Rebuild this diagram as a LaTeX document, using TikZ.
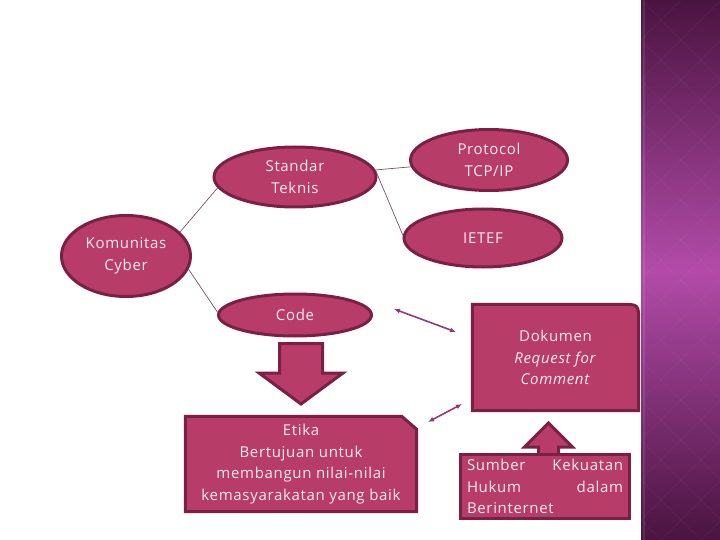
\documentclass[tikz,border=0pt]{standalone}
\usepackage{fontspec}
\setmainfont[LetterSpace=4.5]{Open Sans}
\usepackage{tikz}
\usetikzlibrary{arrows.meta,shapes.geometric,backgrounds}

\definecolor{roseFill}{RGB}{184,60,104}
\definecolor{roseEdge}{RGB}{122,32,68}
\definecolor{roseText}{RGB}{250,234,242}
\definecolor{linkGrey}{RGB}{120,80,105}
\definecolor{twowayRose}{RGB}{150,58,110}
\definecolor{barDark}{RGB}{74,20,64}
\definecolor{barBright}{RGB}{178,75,168}

\begin{document}
\begin{tikzpicture}[x=1pt,y=-1pt,
  font=\fontsize{15}{21.5}\selectfont,
  bubble/.style={ellipse,draw=roseEdge,fill=roseFill,line width=3pt,text=roseText,align=center,inner sep=0pt},
  card/.style={text=roseText,align=center,inner sep=0pt},
  cardframe/.style={draw=roseEdge,fill=roseFill,line width=3pt,line join=miter},
  link/.style={draw=linkGrey,line width=0.7pt},
  twoway/.style={{Latex[length=6pt,width=5pt]}-{Latex[length=6pt,width=5pt]},draw=twowayRose,line width=1.6pt}]
\useasboundingbox (0,0) rectangle (720,540);

% ellipses
\node[bubble,minimum width=129,minimum height=81] (kom) at (126,256) {Komunitas\\Cyber};
\node[bubble,minimum width=162,minimum height=60] (std) at (295,177) {Standar\\Teknis};
\node[bubble,minimum width=153,minimum height=42] (code) at (295,315) {Code};
\node[bubble,minimum width=157,minimum height=61] (prot) at (489,160) {Protocol\\TCP/IP};
\node[bubble,minimum width=158,minimum height=58] (ietf) at (483,238) {IETEF};

\draw[link] (kom.24) -- (std.188);
\draw[link] (kom.-12) -- (code.178);
\draw[link] (std.5) -- (prot.185);
\draw[link] (std.5) -- (ietf.178);

% boxes
\node[card,minimum width=166,minimum height=106] (dok) at (555.5,357.5)
  {Dokumen\\\textit{Request for}\\\textit{Comment}};
\node[card,minimum width=231,minimum height=95] (eti) at (301,464)
  {Etika\\Bertujuan untuk\\membangun nilai-nilai\\kemasyarakatan yang baik};
\begin{scope}[on background layer]
\draw[cardframe] (dok.south west) -- (dok.north west) -- ([xshift=-18pt]dok.north east)
  .. controls (dok.north east) .. ([yshift=-18pt]dok.north east) -- (dok.south east) -- cycle;
\draw[cardframe] (eti.south west) -- (eti.north west) -- ([xshift=-15pt]eti.north east)
  -- ([yshift=-13pt]eti.north east) -- (eti.south east) -- cycle;
\end{scope}

% block arrows
\draw[cardframe] (279.5,343.5) -- (322.5,343.5) -- (322.5,373) -- (343,373) -- (301,404)
  -- (259,373) -- (279.5,373) -- cycle;
\draw[cardframe] (538.5,456) -- (558.5,456) -- (558.5,447) -- (572.5,447) -- (548.5,423)
  -- (524.5,447) -- (538.5,447) -- cycle;

\node[card,cardframe,text width=156,inner xsep=6.5pt,minimum height=64,align=left] (sum) at (545,486.5)
  {Sumber\hfill Kekuatan\\Hukum\hfill dalam\\Berinternet};

% two-way arrows
\coordinate (ta1) at (394,309);
\coordinate (tb1) at (456,332);
\coordinate (ta2) at (428,422);
\coordinate (tb2) at (462,404);
\draw[twoway] (ta1) -- (tb1);
\draw[twoway] (ta2) -- (tb2);

% side bar
\shade[top color=barDark,bottom color=barDark,middle color=barBright] (641,0) rectangle (720,540);
\begin{scope}
\clip (641,0) rectangle (720,540);
\foreach \k in {641,681,...,1321} {
  \draw[white,opacity=0.035,line width=0.8pt] (\k,0) -- ++(-540,540);
  \draw[white,opacity=0.035,line width=0.8pt] (\k-680,0) -- ++(540,540);
}
\draw[white,opacity=0.1,line width=1.5pt] (644,0) -- (644,540);
\end{scope}
\end{tikzpicture}
\end{document}
